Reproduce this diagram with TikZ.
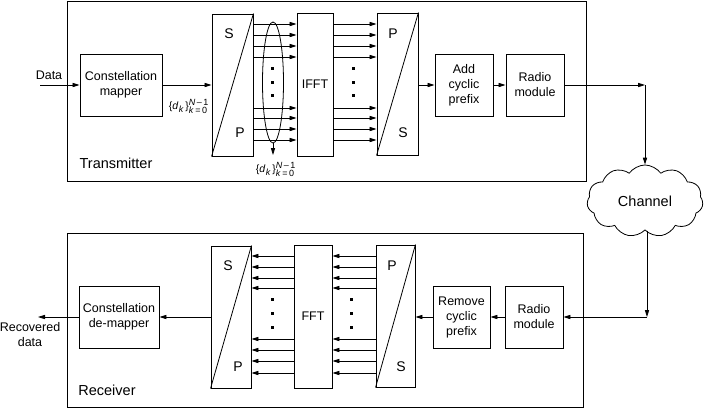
\documentclass[tikz,border=0pt]{standalone}
\usepackage{fontspec}
\setmainfont{Liberation Sans}
\usetikzlibrary{arrows.meta,shapes.geometric,shapes.symbols}
\newcommand{\dkset}{{\fontsize{10.5}{10.5}\selectfont\{\textit{d}\kern0.3pt\raisebox{-2.5pt}{\fontsize{9}{9}\selectfont\textit{k}}\,\}}\makebox[0pt][l]{\raisebox{4.5pt}{\fontsize{9}{9}\selectfont\textit{N}\,–\,1}}\raisebox{-3.5pt}{\fontsize{9}{9}\selectfont\textit{k}\,=\,0}}
\begin{document}
\begin{tikzpicture}[x=1pt,y=-1pt,
  every node/.style={font=\fontsize{12.5}{15}\selectfont},
  blk/.style={draw, line width=0.9pt, align=center, inner sep=0pt},
  cont/.style={draw, line width=0.9pt},
  arr/.style={line width=0.8pt,-{Triangle[length=7pt,width=4.2pt]}},
  ln/.style={line width=0.8pt},
  sp/.style={font=\fontsize{14}{14}\selectfont},
  big/.style={font=\fontsize{14.5}{16}\selectfont},
  dot/.style={fill, rectangle, minimum size=3pt, inner sep=0pt}
]
\useasboundingbox (0,0) rectangle (705,408);
% containers
\node[cont, minimum width=519pt, minimum height=180pt, inner sep=0pt] (tx) at (326.5,91) {};
\node[cont, minimum width=516pt, minimum height=174pt, inner sep=0pt] (rx) at (325,320) {};
\node[big] (txl) at (116,163) {Transmitter};
\node[big] (rxl) at (107,390) {Receiver};

% transmitter blocks
\node[blk, minimum width=82pt, minimum height=62pt] (map) at (121,85) {Constellation\\mapper};
\node[blk, minimum width=41pt, minimum height=142pt] (s2p) at (232.5,85) {};
\draw[ln] (s2p.south west) -- (s2p.north east);
\node[sp] (s2pS) at (229,34) {S};
\node[sp] (s2pP) at (240,133) {P};
\node[blk, minimum width=36pt, minimum height=143pt] (ifft) at (315,84.5) {IFFT};
\node[blk, minimum width=41pt, minimum height=142pt] (p2s) at (397.5,84) {};
\draw[ln] (p2s.south west) -- (p2s.north east);
\node[sp] (p2sP) at (393,34) {P};
\node[sp] (p2sS) at (403,133) {S};
\node[blk, minimum width=58pt, minimum height=62pt] (acp) at (464,85) {Add\\cyclic\\prefix};
\node[blk, minimum width=58pt, minimum height=62pt] (rad) at (535,85) {Radio\\module};

\node (data) at (49,75) {Data};
\coordinate (din) at (40,85);
\draw[arr] (din) -- (map.west);
\draw[arr] (map.east) -- (s2p.west |- map.east);
\node[inner sep=0pt] (dk1) at (188,106) {\dkset};

\foreach \yy in {24,35,46,57,108,118,129,140}{
  \draw[arr] (s2p.east |- 0,\yy) -- (ifft.west |- 0,\yy);
  \draw[arr] (ifft.east |- 0,\yy) -- (p2s.west |- 0,\yy);
}
\foreach \yy in {68,82,95}{
  \node[dot] at (272,\yy) {};
  \node[dot] at (353,\yy) {};
}
\node[ellipse, draw, line width=0.8pt, minimum width=21pt, minimum height=121pt, inner sep=0pt] (ell) at (273,82.5) {};
\coordinate (ellend) at (273,155);
\draw[arr] (ell.south) -- (ellend);
\node[inner sep=0pt] (dk2) at (275,169) {\dkset};

\draw[arr] (p2s.east |- acp.west) -- (acp.west);
\draw[arr] (acp.east) -- (rad.west);

% channel
\node[cloud, draw, line width=0.8pt, cloud puffs=11, cloud puff arc=110, aspect=1.6, minimum width=116pt, minimum height=72pt, inner sep=0pt, big] (chan) at (645,201) {Channel};
\coordinate (c1) at (645,85);
\draw[arr] (rad.east) -- (c1);
\draw[arr] (c1) -- (chan.north);
\coordinate (c2) at (647,317);
\draw[arr] (chan.south -| c2) -- (c2);

% receiver blocks
\node[blk, minimum width=58pt, minimum height=62pt] (rrad) at (534,317) {Radio\\module};
\node[blk, minimum width=57pt, minimum height=62pt] (rcp) at (461.5,317) {Remove\\cyclic\\prefix};
\node[blk, minimum width=39pt, minimum height=142pt] (rs2p) at (395.5,316) {};
\draw[ln] (rs2p.south west) -- (rs2p.north east);
\node[sp] (rs2pP) at (392,266) {P};
\node[sp] (rs2pS) at (401,367) {S};
\node[blk, minimum width=38pt, minimum height=143pt] (fft) at (313,316.5) {FFT};
\node[blk, minimum width=40pt, minimum height=142pt] (rp2s) at (231,317) {};
\draw[ln] (rp2s.south west) -- (rp2s.north east);
\node[sp] (rp2sS) at (228,266) {S};
\node[sp] (rp2sP) at (238,367) {P};
\node[blk, minimum width=80pt, minimum height=62pt] (dmap) at (119,317) {Constellation\\de-mapper};

\draw[arr] (c2) -- (rrad.east);
\draw[arr] (rrad.west) -- (rcp.east);
\draw[arr] (rcp.west) -- (rs2p.east |- rcp.west);
\foreach \yy in {256,267,278,288,339,350,361,373}{
  \draw[arr] (rs2p.west |- 0,\yy) -- (fft.east |- 0,\yy);
  \draw[arr] (fft.west |- 0,\yy) -- (rp2s.east |- 0,\yy);
}
\foreach \yy in {299,313,327}{
  \node[dot] at (272,\yy) {};
  \node[dot] at (351,\yy) {};
}
\draw[arr] (rp2s.west |- dmap.east) -- (dmap.east);
\coordinate (dout) at (38,317);
\draw[arr] (dmap.west) -- (dout);
\node[align=center] (rec) at (30,335) {Recovered\\data};
\end{tikzpicture}
\end{document}
